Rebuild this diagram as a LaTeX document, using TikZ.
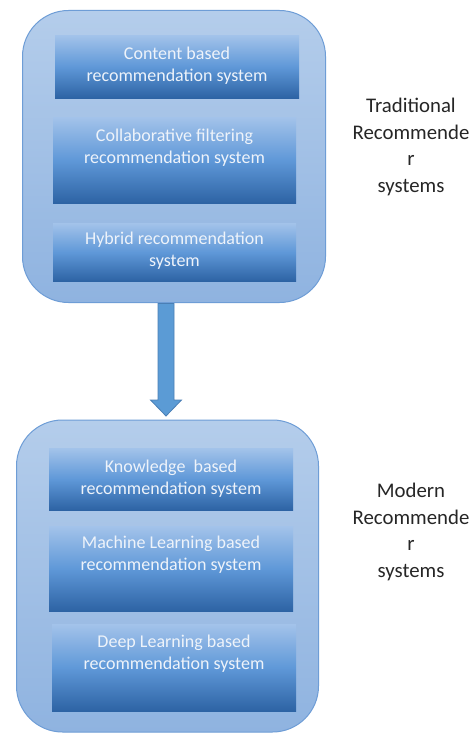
\documentclass[tikz,border=0pt]{standalone}
\usepackage{fontspec}
\usetikzlibrary{calc}
\setmainfont{Carlito}
\definecolor{outerTop}{HTML}{B4CDEB}
\definecolor{outerBot}{HTML}{8FB3E0}
\definecolor{outerLine}{HTML}{6E9DD6}
\definecolor{innerTop}{HTML}{A3C3EA}
\definecolor{innerMid}{HTML}{5F98D8}
\definecolor{innerBot}{HTML}{2D63A4}
\definecolor{arrowFill}{HTML}{5B9BD5}
\definecolor{arrowLine}{HTML}{4A7FB5}
\definecolor{boxText}{HTML}{EEF3FA}
\begin{document}
\begin{tikzpicture}[x=1pt,y=-1pt,
  outerbox/.style={draw=outerLine, line width=1pt, rounded corners=46pt, top color=outerTop, bottom color=outerBot, anchor=north west, inner sep=0pt},
  innerbox/.style={top color=innerTop, bottom color=innerBot, middle color=innerMid, anchor=north west, inner sep=0pt, draw=none},
  boxtext/.style={text=boxText, font=\fontsize{18}{22}\selectfont, align=center, inner sep=0pt},
  sidetext/.style={text=black!85, font=\fontsize{20.8}{26.5}\selectfont, align=center, inner sep=0pt},
  bigarrow/.style={fill=arrowFill, draw=arrowLine, line width=0.8pt}
]
\useasboundingbox (0,0) rectangle (475,733);
\fill[white] (0,0) rectangle (475,733);

% outer boxes
\node[outerbox, minimum width=303pt, minimum height=292pt] (trad) at (22,10) {};
\node[outerbox, minimum width=302pt, minimum height=312pt] (modern) at (16,419.5) {};

% traditional inner boxes
\node[innerbox, minimum width=244pt, minimum height=63pt] (b1) at (55,35) {};
\node[boxtext] (t1) at (177,66) {Content based\\recommendation system};
\node[innerbox, minimum width=243pt, minimum height=86pt] (b2) at (53,117) {};
\node[boxtext] (t2) at (174.5,148) {Collaborative filtering\\recommendation system};
\node[innerbox, minimum width=243pt, minimum height=58pt] (b3) at (53,223) {};
\node[boxtext] (t3) at (174.5,251) {Hybrid recommendation\\system};

% modern inner boxes
\node[innerbox, minimum width=244pt, minimum height=62pt] (b4) at (49,448) {};
\node[boxtext] (t4) at (171,479) {Knowledge\ \ based\\recommendation system};
\node[innerbox, minimum width=244pt, minimum height=85pt] (b5) at (49,526) {};
\node[boxtext] (t5) at (171,554.5) {Machine Learning based\\recommendation system};
\node[innerbox, minimum width=244pt, minimum height=87pt] (b6) at (52,624) {};
\node[boxtext] (t6) at (174,654) {Deep Learning based\\recommendation system};

% side labels
\node[sidetext] (lt) at (411,147) {Traditional\\Recommende\\r\\systems};
\node[sidetext] (lm) at (411,532) {Modern\\Recommende\\r\\systems};

% block arrow between the two groups
\coordinate (as) at (166,303.5);
\coordinate (tip) at ($(modern.north -| as)+(0,-3.5)$);
\draw[bigarrow] ($(as)+(-8,0)$) -- ($(as)+(8,0)$) -- ($(tip)+(8,-16)$) -- ($(tip)+(15.5,-16)$)
  -- (tip) -- ($(tip)+(-15.5,-16)$) -- ($(tip)+(-8,-16)$) -- cycle;
\end{tikzpicture}
\end{document}
